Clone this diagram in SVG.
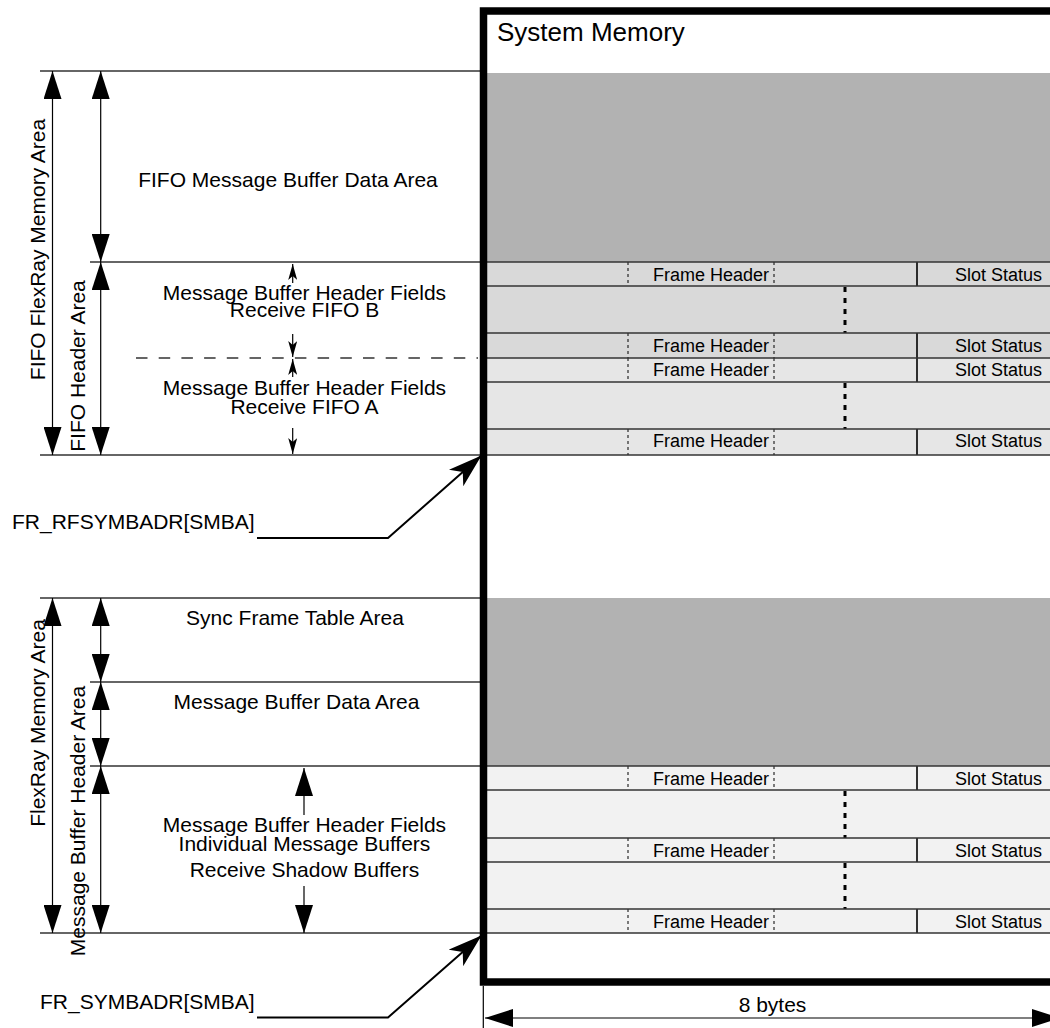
<svg xmlns="http://www.w3.org/2000/svg" width="1050" height="1028" viewBox="0 0 1050 1028">
<style>
text{font-family:"Liberation Sans",Arial,Helvetica,sans-serif;fill:#000}
.t21{font-size:21px}
.mid{text-anchor:middle}
.cell{font-size:18px}
.end{text-anchor:end}
.hl{stroke:#333;stroke-width:1.5;fill:none}
.dim{stroke:#000;stroke-width:1.2;fill:none}
.fh{stroke:#000;stroke-width:1;stroke-dasharray:3 3}
.sep{stroke:#000;stroke-width:1.6}
.dots{stroke:#000;stroke-width:3;stroke-dasharray:5 6}
.gray{fill:#b2b2b2}
.rb{fill:#d9d9d9}
.ra{fill:#e6e6e6}
.rm{fill:#f2f2f2}
</style>
<defs>
<marker id="big" viewBox="0 0 28 18" refX="28" refY="9" markerWidth="28" markerHeight="18" markerUnits="userSpaceOnUse" orient="auto-start-reverse"><path d="M0,0 L28,9 L0,18 z" fill="#000"/></marker>
<marker id="small" viewBox="0 0 16 9" refX="16" refY="4.5" markerWidth="16" markerHeight="9" markerUnits="userSpaceOnUse" orient="auto"><path d="M0,0 L16,4.5 L0,9 L4,4.5 z" fill="#000"/></marker>
<marker id="stealth" viewBox="0 0 34 22" refX="34" refY="11" markerWidth="34" markerHeight="22" markerUnits="userSpaceOnUse" orient="auto"><path d="M0,0 L34,11 L0,22 L9,11 z" fill="#000"/></marker>
</defs>
<rect width="1050" height="1028" fill="#fff"/>

<g id="system-memory">
<rect x="483.5" y="11" width="620" height="971" fill="#fff"/>
<text x="497" y="41" style="font-size:26px">System Memory</text>
</g>

<g id="fifo-data-area">
<rect class="gray" x="487" y="73" width="580" height="189"/>
<line class="hl" x1="40" y1="71" x2="480" y2="71"/>
<text class="t21 mid" x="288" y="187">FIFO Message Buffer Data Area</text>
</g>

<g id="fifo-b-headers">
<rect class="rb" x="487" y="262" width="580" height="96"/>
<line class="fh" x1="628" y1="262" x2="628" y2="286"/><line class="fh" x1="774" y1="262" x2="774" y2="286"/><line class="sep" x1="917" y1="262" x2="917" y2="286"/>
<text class="cell end" x="769" y="281">Frame Header</text><text class="cell end" x="1042" y="281">Slot Status</text>
<line class="dots" x1="845" y1="287" x2="845" y2="333"/>
<line class="fh" x1="628" y1="333" x2="628" y2="358"/><line class="fh" x1="774" y1="333" x2="774" y2="358"/><line class="sep" x1="917" y1="333" x2="917" y2="358"/>
<text class="cell end" x="769" y="352">Frame Header</text><text class="cell end" x="1042" y="352">Slot Status</text>
<text class="t21 mid" x="304.5" y="300">Message Buffer Header Fields</text>
<text class="t21 mid" x="304.5" y="317">Receive FIFO B</text>
</g>

<g id="fifo-a-headers">
<rect class="ra" x="487" y="358" width="580" height="97"/>
<line class="fh" x1="628" y1="358" x2="628" y2="382"/><line class="fh" x1="774" y1="358" x2="774" y2="382"/><line class="sep" x1="917" y1="358" x2="917" y2="382"/>
<text class="cell end" x="769" y="376">Frame Header</text><text class="cell end" x="1042" y="376">Slot Status</text>
<line class="dots" x1="845" y1="383" x2="845" y2="429"/>
<line class="fh" x1="628" y1="429" x2="628" y2="455"/><line class="fh" x1="774" y1="429" x2="774" y2="455"/><line class="sep" x1="917" y1="429" x2="917" y2="455"/>
<text class="cell end" x="769" y="447">Frame Header</text><text class="cell end" x="1042" y="447">Slot Status</text>
<text class="t21 mid" x="304.5" y="395">Message Buffer Header Fields</text>
<text class="t21 mid" x="304.5" y="414">Receive FIFO A</text>
</g>

<g id="sync-and-data-area">
<rect class="gray" x="487" y="598" width="580" height="168"/>
<line class="hl" x1="40" y1="598" x2="480" y2="598"/>
<line class="hl" x1="90" y1="682" x2="480" y2="682"/>
<text class="t21 mid" x="295" y="625">Sync Frame Table Area</text>
<text class="t21 mid" x="296.5" y="709">Message Buffer Data Area</text>
</g>

<g id="mb-headers">
<rect class="rm" x="487" y="766" width="580" height="167"/>
<line class="fh" x1="628" y1="766" x2="628" y2="790"/><line class="fh" x1="774" y1="766" x2="774" y2="790"/><line class="sep" x1="917" y1="766" x2="917" y2="790"/>
<text class="cell end" x="769" y="785">Frame Header</text><text class="cell end" x="1042" y="785">Slot Status</text>
<line class="dots" x1="845" y1="791" x2="845" y2="838"/>
<line class="fh" x1="628" y1="838" x2="628" y2="862"/><line class="fh" x1="774" y1="838" x2="774" y2="862"/><line class="sep" x1="917" y1="838" x2="917" y2="862"/>
<text class="cell end" x="769" y="857">Frame Header</text><text class="cell end" x="1042" y="857">Slot Status</text>
<line class="dots" x1="845" y1="863" x2="845" y2="909"/>
<line class="fh" x1="628" y1="909" x2="628" y2="933"/><line class="fh" x1="774" y1="909" x2="774" y2="933"/><line class="sep" x1="917" y1="909" x2="917" y2="933"/>
<text class="cell end" x="769" y="928">Frame Header</text><text class="cell end" x="1042" y="928">Slot Status</text>
<text class="t21 mid" x="304.5" y="832">Message Buffer Header Fields</text>
<text class="t21 mid" x="304.5" y="851">Individual Message Buffers</text>
<text class="t21 mid" x="304.5" y="877">Receive Shadow Buffers</text>
</g>

<g id="row-lines">
<line class="hl" x1="90" y1="262" x2="1050" y2="262"/>
<line class="hl" x1="487" y1="286" x2="1050" y2="286"/>
<line class="hl" x1="487" y1="333" x2="1050" y2="333"/>
<line class="hl" x1="487" y1="358" x2="1050" y2="358"/>
<line class="hl" x1="487" y1="382" x2="1050" y2="382"/>
<line class="hl" x1="487" y1="429" x2="1050" y2="429"/>
<line class="hl" x1="40" y1="455" x2="1050" y2="455"/>
<line class="hl" x1="90" y1="766" x2="1050" y2="766"/>
<line class="hl" x1="487" y1="790" x2="1050" y2="790"/>
<line class="hl" x1="487" y1="838" x2="1050" y2="838"/>
<line class="hl" x1="487" y1="862" x2="1050" y2="862"/>
<line class="hl" x1="487" y1="909" x2="1050" y2="909"/>
<line class="hl" x1="40" y1="933" x2="1050" y2="933"/>
<line x1="136" y1="358" x2="478" y2="358" stroke="#333" stroke-width="1.3" stroke-dasharray="11.5 11.2"/>
</g>

<g id="system-memory-border">
<rect x="483.5" y="11" width="620" height="971" fill="none" stroke="#000" stroke-width="7.5"/>
</g>

<g id="dimension-labels">
<text class="t21 mid" transform="translate(45,249.5) rotate(-90)">FIFO FlexRay Memory Area</text>
<text class="t21 mid" transform="translate(85,366) rotate(-90)">FIFO Header Area</text>
<text class="t21 mid" transform="translate(45,723) rotate(-90)">FlexRay Memory Area</text>
<text class="t21 mid" transform="translate(85,821) rotate(-90)">Message Buffer Header Area</text>
<text class="t21" x="12" y="529">FR_RFSYMBADR[SMBA]</text>
<text class="t21" x="40" y="1009">FR_SYMBADR[SMBA]</text>
<text class="t21 mid" x="772.5" y="1012">8 bytes</text>
</g>

<g id="connectors">
<line class="dim" x1="52.5" y1="71" x2="52.5" y2="455" marker-start="url(#big)" marker-end="url(#big)"/>
<line class="dim" x1="100.7" y1="71" x2="100.7" y2="262" marker-start="url(#big)" marker-end="url(#big)"/>
<line class="dim" x1="100.7" y1="262" x2="100.7" y2="455" marker-start="url(#big)" marker-end="url(#big)"/>
<line class="dim" x1="52.5" y1="598" x2="52.5" y2="933" marker-start="url(#big)" marker-end="url(#big)"/>
<line class="dim" x1="100.7" y1="598" x2="100.7" y2="682" marker-start="url(#big)" marker-end="url(#big)"/>
<line class="dim" x1="100.7" y1="682" x2="100.7" y2="766" marker-start="url(#big)" marker-end="url(#big)"/>
<line class="dim" x1="100.7" y1="766" x2="100.7" y2="933" marker-start="url(#big)" marker-end="url(#big)"/>
<line class="dim" x1="292.7" y1="283" x2="292.7" y2="264" marker-end="url(#small)"/>
<line class="dim" x1="292.7" y1="334" x2="292.7" y2="357" marker-end="url(#small)"/>
<line class="dim" x1="292.7" y1="377" x2="292.7" y2="359" marker-end="url(#small)"/>
<line class="dim" x1="292.7" y1="428" x2="292.7" y2="454" marker-end="url(#small)"/>
<line class="dim" x1="304" y1="815" x2="304" y2="768" marker-end="url(#big)"/>
<line class="dim" x1="304" y1="886" x2="304" y2="933" marker-end="url(#big)"/>
<polyline points="257,538 388,538 481.5,455.5" fill="none" stroke="#000" stroke-width="2" marker-end="url(#stealth)"/>
<polyline points="257,1017.5 388,1017.5 481.5,935.5" fill="none" stroke="#000" stroke-width="2" marker-end="url(#stealth)"/>
<line class="dim" x1="483.3" y1="986" x2="483.3" y2="1028"/>
<line class="dim" x1="485" y1="1018" x2="1060" y2="1018" marker-start="url(#big)" marker-end="url(#big)"/>
</g>
</svg>
